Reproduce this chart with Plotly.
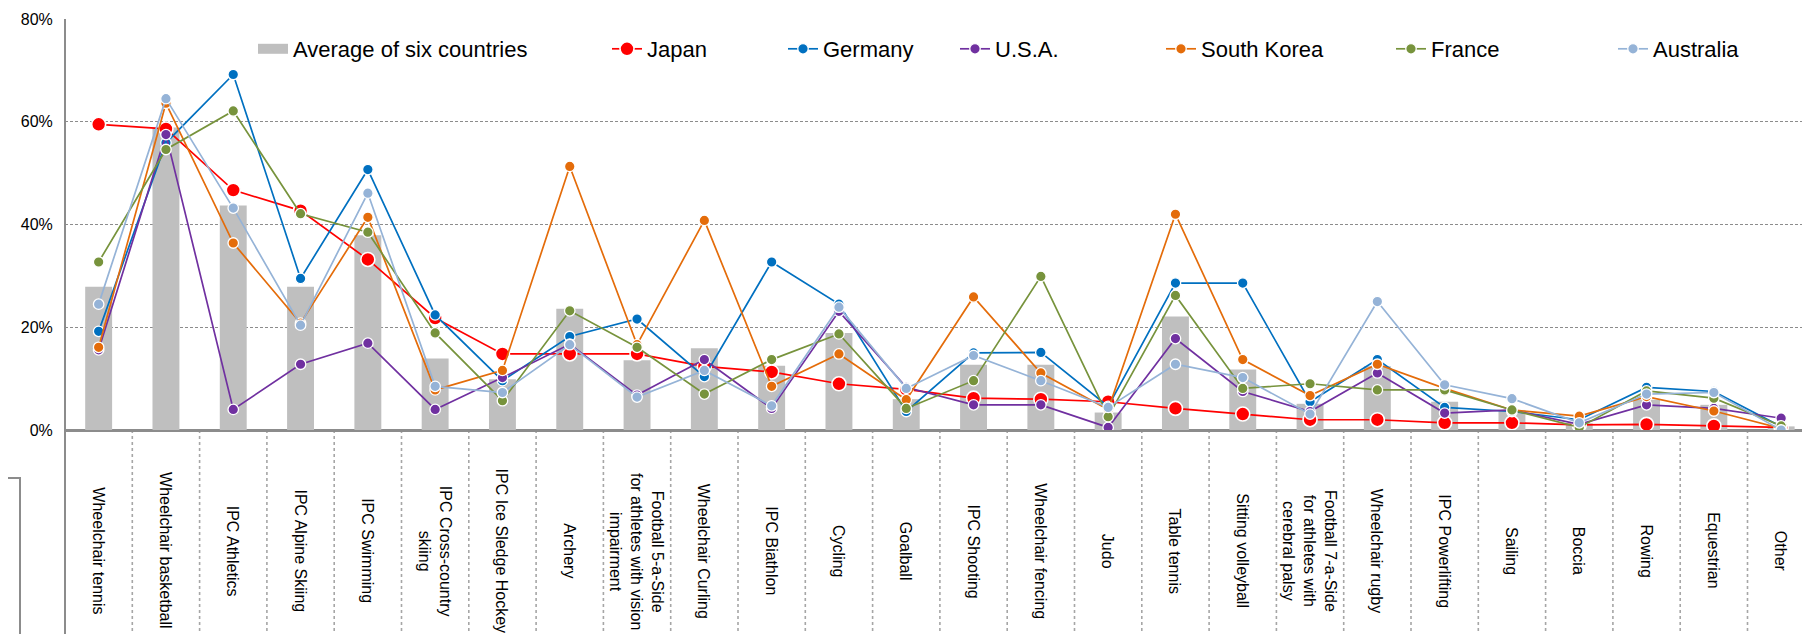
import plotly.graph_objects as go

# ---------------- data ----------------
categories = [
    "Wheelchair tennis", "Wheelchair basketball", "IPC Athletics", "IPC Alpine Skiing",
    "IPC Swimming", "IPC Cross-country skiing", "IPC Ice Sledge Hockey", "Archery",
    "Football 5-a-Side for athletes with vision impairment", "Wheelchair Curling",
    "IPC Biathlon", "Cycling", "Goalball", "IPC Shooting", "Wheelchair fencing", "Judo",
    "Table tennis", "Sitting volleyball",
    "Football 7-a-Side for athletes with cerebral palsy", "Wheelchair rugby",
    "IPC Powerlifting", "Sailing", "Boccia", "Rowing", "Equestrian", "Other",
]
tick_labels = [
    "Wheelchair tennis", "Wheelchair basketball", "IPC Athletics", "IPC Alpine Skiing",
    "IPC Swimming", "IPC Cross-country<br>skiing", "IPC Ice Sledge Hockey", "Archery",
    "Football 5-a-Side<br>for athletes with vision<br>impairment", "Wheelchair Curling",
    "IPC Biathlon", "Cycling", "Goalball", "IPC Shooting", "Wheelchair fencing", "Judo",
    "Table tennis", "Sitting volleyball",
    "Football 7-a-Side<br>for athletes with<br>cerebral palsy", "Wheelchair rugby",
    "IPC Powerlifting", "Sailing", "Boccia", "Rowing", "Equestrian", "Other",
]
average = [27.9, 58.9, 43.7, 27.9, 37.9, 13.9, 9.9, 23.6, 13.6, 15.9, 12.5, 18.9, 6.0,
           12.7, 12.7, 3.4, 22.1, 11.8, 5.1, 12.4, 5.5, 3.9, 1.3, 5.9, 4.9, 0.7]
japan = [59.5, 58.6, 46.7, 42.7, 33.2, 21.8, 14.8, 14.8, 14.8, 12.4, 11.3, 9.0, 7.9,
         6.2, 6.0, 5.5, 4.2, 3.1, 2.0, 2.0, 1.4, 1.4, 1.0, 1.1, 0.8, 0.5]
germany = [19.2, 55.9, 69.2, 29.5, 50.7, 22.4, 9.6, 18.2, 21.6, 10.4, 32.7, 24.5, 3.6,
           15.0, 15.1, 4.6, 28.6, 28.6, 5.5, 13.7, 4.4, 3.6, 2.0, 8.3, 7.5, 0.65]
usa = [15.6, 57.5, 4.0, 12.8, 16.9, 4.0, 10.2, 16.7, 6.8, 13.7, 4.2, 23.1, 8.3,
       4.9, 4.9, 0.5, 17.8, 7.5, 3.6, 11.1, 3.3, 3.9, 1.1, 4.9, 4.2, 2.3]
south_korea = [16.1, 63.6, 36.4, 20.8, 41.4, 7.8, 11.6, 51.3, 16.6, 40.8, 8.5, 14.8, 5.9,
               25.9, 11.1, 4.0, 42.0, 13.7, 6.7, 12.8, 8.1, 3.9, 2.7, 6.5, 3.7, 0.3]
france = [32.7, 54.6, 62.1, 42.1, 38.5, 18.9, 5.7, 23.2, 16.1, 7.0, 13.7, 18.7, 4.2,
          9.6, 29.9, 2.6, 26.2, 8.1, 9.0, 7.8, 7.8, 3.9, 0.5, 7.6, 6.2, 0.8]
australia = [24.5, 64.5, 43.2, 20.4, 46.1, 8.5, 7.3, 16.6, 6.4, 11.6, 4.7, 23.9, 8.1,
             14.5, 9.6, 4.4, 12.8, 10.2, 3.1, 25.0, 8.8, 6.1, 1.4, 7.0, 7.3, 0.0]
y_ticks = [0, 20, 40, 60, 80]

# ---------------- layout geometry ----------------
W, H = 1810, 634
L, T, B = 57, 11, 212
PW, PH = W - L, H - T - B
CELL = 67.3
FONT = "Liberation Sans, Arial, sans-serif"
BAR_COLOR = "#BFBFBF"


def px_x(px):
    return (px - L) / PW


def px_y(py):
    return (H - B - py) / PH


series = [
    ("Japan", japan, "#FF0000", 14, 1.6),
    ("Germany", germany, "#0070C0", 10.5, 1.3),
    ("U.S.A.", usa, "#7030A0", 10.5, 1.3),
    ("South Korea", south_korea, "#E46C0A", 10.5, 1.3),
    ("France", france, "#77933C", 10.5, 1.3),
    ("Australia", australia, "#95B3D7", 10.5, 1.3),
]
legend_text_px = [285, 639, 815, 987, 1193, 1423, 1645]

fig = go.Figure()
fig.add_trace(go.Bar(
    x=categories, y=average, name="Average of six countries",
    marker=dict(color=BAR_COLOR, line=dict(width=0)),
    legendgroup="avg", showlegend=False,
))
# legend entry for the bars, drawn as a wide grey swatch like the original
fig.add_trace(go.Scatter(
    x=[None], y=[None], mode="lines", name="Average of six countries",
    line=dict(color=BAR_COLOR, width=12), legendgroup="avg", legend="legend",
    hoverinfo="skip",
))
for i, (name, vals, col, ms, mlw) in enumerate(series):
    fig.add_trace(go.Scatter(
        x=categories, y=vals, name=name, mode="lines+markers",
        line=dict(color=col, width=1.7),
        marker=dict(color=col, size=ms, line=dict(color="white", width=mlw)),
        legend=f"legend{i + 2}",
    ))

legends = {}
for i, tx in enumerate(legend_text_px):
    key = "legend" if i == 0 else f"legend{i + 1}"
    legends[key] = dict(
        x=px_x(tx - 40), xanchor="left", y=px_y(41), yanchor="middle",
        orientation="h", bgcolor="rgba(0,0,0,0)", borderwidth=0,
        font=dict(family=FONT, size=22, color="#000000"),
        itemclick=False, itemdoubleclick=False,
    )

annotations = []
for cat, lab in zip(categories, tick_labels):
    annotations.append(dict(
        x=cat, xref="x", y=px_y(543), yref="paper", text=lab, textangle=90,
        showarrow=False, xanchor="center", yanchor="middle",
        font=dict(family=FONT, size=16, color="#000000"),
    ))

shapes = []
for i in range(len(categories)):
    shapes.append(dict(
        type="line", xref="x", yref="paper", x0=i + 0.5, x1=i + 0.5,
        y0=0, y1=px_y(640), line=dict(color="#A6A6A6", width=1.6, dash="dot"),
        layer="below",
    ))
shapes.append(dict(
    type="line", xref="paper", yref="paper", x0=0, x1=0, y0=px_y(640), y1=1,
    line=dict(color="#8C8C8C", width=2),
))
shapes.append(dict(
    type="rect", xref="paper", yref="paper", x0=px_x(-3), x1=px_x(12),
    y0=px_y(627), y1=px_y(470), line=dict(color="#8C8C8C", width=2),
    fillcolor="rgba(0,0,0,0)",
))

fig.update_layout(
    width=W, height=H,
    margin=dict(l=L, r=0, t=T, b=B, pad=0),
    paper_bgcolor="white", plot_bgcolor="white",
    font=dict(family=FONT, color="#000000"),
    bargap=0.6,
    showlegend=True,
    annotations=annotations,
    shapes=shapes,
    **legends,
)
fig.update_xaxes(
    type="category", range=[-0.5, -0.5 + PW / CELL],
    showticklabels=False, showgrid=False, zeroline=False, showline=False, ticks="",
)
fig.update_yaxes(
    range=[0, 80], tickvals=y_ticks, ticktext=[f"{v}%" for v in y_ticks],
    tickfont=dict(family=FONT, size=16, color="#000000"),
    showgrid=True, gridcolor="#8C8C8C", gridwidth=1.2, griddash="3px,2px",
    zeroline=True, zerolinecolor="#8C8C8C", zerolinewidth=2.5,
    showline=False, ticks="outside", ticklen=8, tickcolor="rgba(0,0,0,0)",
)

fig.write_html("out.html")
